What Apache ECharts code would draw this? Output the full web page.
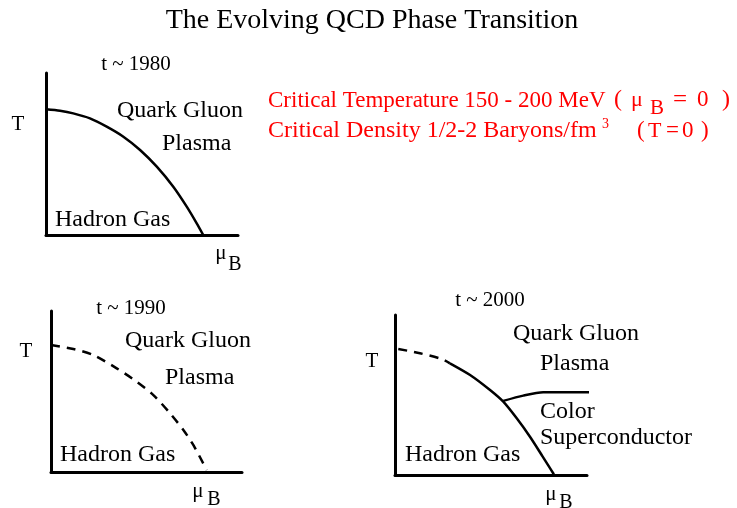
<!DOCTYPE html>
<html>
<head>
<meta charset="utf-8">
<title>The Evolving QCD Phase Transition</title>
<script src="https://cdn.jsdelivr.net/npm/echarts@6/dist/echarts.min.js"></script>
<style>
    html, body {margin: 0; padding: 0; background: #fff;}
    #chart {width: 737px; height: 508px;}
</style>
</head>
<body>
<div id="chart"></div>
<script>
// phase boundaries, x = mu_B, y = T (0-100 of each small panel)
var curve1980 = [[0, 77.6], [7.3, 76.7], [14.2, 75.1], [22.9, 72.0], [31.6, 66.9], [40.3, 60.7], [49.0, 52.5],
    [57.7, 42.2], [66.3, 29.8], [73.3, 17.5], [78.5, 7.2], [81.9, 0]];
var curve1990 = [[0, 78.9], [11.7, 76.4], [22.1, 72.7], [34.4, 64.4], [44.9, 56.1], [53.6, 47.8], [62.3, 36.5],
    [69.3, 26.1], [74.5, 16.8], [79.7, 5.4], [81.5, 1.2]];
var curve2000Dashed = [[1.7, 78.8], [13.0, 76.1], [24.3, 72.5], [28.6, 69.8]];
var curve2000Solid = [[28.6, 69.8], [39.1, 62.5], [49.5, 53.1], [56.4, 45.8], [63.4, 35.4], [70.3, 23.9],
    [76.4, 12.5], [82.4, 1.1], [82.8, 0]];
var curve2000Branch = [[56.4, 46.3], [66.8, 49.6], [77.2, 51.7], [112, 51.7]];

var panelYears = ['t ~ 1980', 't ~ 1990', 't ~ 2000'];

var serif = 'Liberation Serif';

function txt(s, x, y, size, opts) {
    opts = opts || {};
    return {
        type: 'text',
        x: x,
        y: y,
        silent: true,
        style: {
            text: s,
            fill: opts.color || '#000',
            fontFamily: serif,
            fontSize: size,
            align: opts.align || 'left',
            verticalAlign: 'middle'
        }
    };
}

function axisPair(idx) {
    return {
        type: 'value',
        gridIndex: idx,
        min: 0,
        max: 100,
        axisLine: {show: true, onZero: false, lineStyle: {color: '#000', width: 3}},
        axisTick: {show: false},
        axisLabel: {show: false},
        splitLine: {show: false}
    };
}

function curve(idx, data, dashed) {
    return {
        type: 'line',
        xAxisIndex: idx,
        yAxisIndex: idx,
        data: data,
        smooth: 0.25,
        symbol: 'none',
        clip: false,
        lineStyle: {color: '#000', width: 2.5, type: dashed ? [9, 7] : 'solid'}
    };
}

var red = '#ff0000';

var option = {
    animation: false,
    backgroundColor: '#fff',
    grid: [
        {left: 46, top: 73, width: 192, height: 162},
        {left: 51, top: 311, width: 191, height: 161},
        {left: 395, top: 315, width: 192, height: 160}
    ],
    xAxis: [axisPair(0), axisPair(1), axisPair(2)],
    yAxis: [axisPair(0), axisPair(1), axisPair(2)],
    series: [
        curve(0, curve1980, false),
        curve(1, curve1990, true),
        curve(2, curve2000Dashed, true),
        curve(2, curve2000Solid, false),
        curve(2, curve2000Branch, false)
    ],
    graphic: [
        txt('The Evolving QCD Phase Transition', 372, 21, 28, {align: 'center'}),

        // panel 1
        txt(panelYears[0], 136, 64, 21, {align: 'center'}),
        txt('T', 18, 124, 21, {align: 'center'}),
        txt('Quark Gluon', 117, 111, 24),
        txt('Plasma', 162, 144, 24),
        txt('Hadron Gas', 55, 220, 24),
        txt('\u03bc', 221, 253, 21, {align: 'center'}),
        txt('B', 235, 265, 20, {align: 'center'}),

        // panel 2
        txt(panelYears[1], 131, 308, 21, {align: 'center'}),
        txt('T', 26, 351, 21, {align: 'center'}),
        txt('Quark Gluon', 125, 341, 24),
        txt('Plasma', 165, 378, 24),
        txt('Hadron Gas', 60, 455, 24),
        txt('\u03bc', 198, 491, 21, {align: 'center'}),
        txt('B', 214, 500, 20, {align: 'center'}),

        // panel 3
        txt(panelYears[2], 490, 300, 21, {align: 'center'}),
        txt('T', 372, 361, 21, {align: 'center'}),
        txt('Quark Gluon', 513, 334, 24),
        txt('Plasma', 540, 364, 24),
        txt('Color', 540, 412, 24),
        txt('Superconductor', 540, 438, 24),
        txt('Hadron Gas', 405, 455, 24),
        txt('\u03bc', 551, 494, 21, {align: 'center'}),
        txt('B', 566, 503, 20, {align: 'center'}),

        // red notes
        txt('Critical Temperature 150 - 200 MeV', 268, 101, 23, {color: red}),
        txt('(', 614, 100, 24, {color: red}),
        txt('\u03bc', 631, 100, 22, {color: red}),
        txt('B', 650, 108, 21, {color: red}),
        txt('=', 673, 100, 25, {color: red}),
        txt('0', 697, 100, 23, {color: red}),
        txt(')', 722, 100, 24, {color: red}),

        txt('Critical Density 1/2-2 Baryons/fm', 268, 131, 24, {color: red}),
        txt('3', 602, 124, 14, {color: red}),
        txt('(', 637, 131, 23, {color: red}),
        txt('T', 648, 131, 22, {color: red}),
        txt('=', 666, 131, 23, {color: red}),
        txt('0', 682, 131, 23, {color: red}),
        txt(')', 701, 131, 23, {color: red})
    ]
};

var myChart = echarts.init(document.getElementById('chart'));
myChart.setOption(option);
</script>
</body>
</html>
